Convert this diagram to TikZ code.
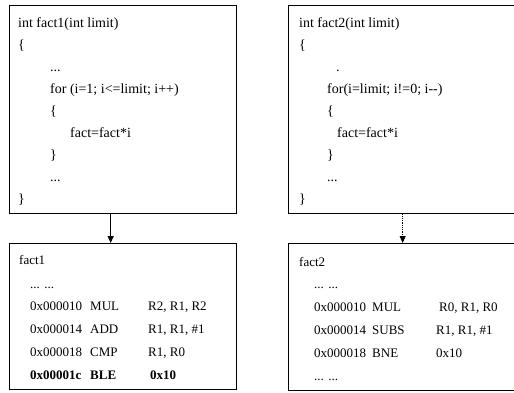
\documentclass[tikz,border=0pt]{standalone}
\usepackage{fontspec}
\setmainfont{Liberation Serif}
\usetikzlibrary{arrows.meta, positioning}

\tikzset{
  codebox/.style={draw, line width=1.3pt, rectangle, inner sep=0pt, anchor=north west},
  codeline/.style={anchor=base west, inner sep=0pt, font=\fontsize{13}{15}\selectfont},
  srcline/.style={codeline, font=\fontsize{14}{16}\selectfont},
  flow/.style={-{Triangle[length=7pt,width=6pt]}, line width=1.3pt},
}

\begin{document}
\begin{tikzpicture}[x=1pt, y=-1pt]
\useasboundingbox (0,0) rectangle (514,392);
% boxes
\node[codebox, minimum width=227pt, minimum height=208pt] (srcA) at (9,5) {};
\node[codebox, minimum width=228pt, minimum height=208pt] (srcB) at (288,5) {};
\node[codebox, minimum width=227pt, minimum height=146pt] (asmA) at (9,243) {};
\node[codebox, minimum width=228pt, minimum height=147pt] (asmB) at (288,243) {};
\draw[flow] ([xshift=-12.5pt]srcA.south) -- ([xshift=-12.5pt]asmA.north);
\draw[flow, line width=0.8pt, densely dotted] (srcB.south) -- (asmB.north);
% fact1 source
\node[srcline] (a1) at (18,27) {int fact1(int limit)};
\node[srcline] (a2) at (18,49) {\{};
\node[srcline] (a3) at (50,71) {...};
\node[srcline] (a4) at (50,93) {for (i=1; i<=limit; i++)};
\node[srcline] (a5) at (50,115) {\{};
\node[srcline] (a6) at (70,137) {fact=fact*i};
\node[srcline] (a7) at (50,159) {\}};
\node[srcline] (a8) at (50,181) {...};
\node[srcline] (a9) at (18,203) {\}};
% fact2 source
\node[srcline] (b1) at (299,27) {int fact2(int limit)};
\node[srcline] (b2) at (299,49) {\{};
\node[srcline] (b3) at (336,71) {.};
\node[srcline] (b4) at (327,93) {for(i=limit; i!=0; i-{}-)};
\node[srcline] (b5) at (327,115) {\{};
\node[srcline] (b6) at (337,137) {fact=fact*i};
\node[srcline] (b7) at (327,159) {\}};
\node[srcline] (b8) at (327,181) {...};
\node[srcline] (b9) at (299,203) {\}};
% fact1 assembly
\node[codeline] (c1) at (19,264) {fact1};
\node[codeline] (c2) at (30,288) {... ...};
\node[codeline] (c3) at (30,310) {0x000010};
\node[codeline] (c3op) at (90,310) {MUL};
\node[codeline] (c3arg) at (148,310) {R2, R1, R2};
\node[codeline] (c4) at (30,333) {0x000014};
\node[codeline] (c4op) at (90,333) {ADD};
\node[codeline] (c4arg) at (148,333) {R1, R1, \#1};
\node[codeline] (c5) at (30,356) {0x000018};
\node[codeline] (c5op) at (90,356) {CMP};
\node[codeline] (c5arg) at (148,356) {R1, R0};
\node[codeline, font=\fontsize{13}{15}\selectfont\bfseries] (c6) at (30,379) {0x00001c};
\node[codeline, font=\fontsize{13}{15}\selectfont\bfseries] (c6op) at (90,379) {BLE};
\node[codeline, font=\fontsize{13}{15}\selectfont\bfseries] (c6arg) at (150,379) {0x10};
% fact2 assembly
\node[codeline] (d1) at (299,266) {fact2};
\node[codeline] (d2) at (314,288) {... ...};
\node[codeline] (d3) at (314,311) {0x000010};
\node[codeline] (d3op) at (372,311) {MUL};
\node[codeline] (d3arg) at (439,311) {R0, R1, R0};
\node[codeline] (d4) at (314,334) {0x000014};
\node[codeline] (d4op) at (372,334) {SUBS};
\node[codeline] (d4arg) at (436,334) {R1, R1, \#1};
\node[codeline] (d5) at (314,357) {0x000018};
\node[codeline] (d5op) at (372,357) {BNE};
\node[codeline] (d5arg) at (436,357) {0x10};
\node[codeline] (d6) at (314,380) {... ...};
\end{tikzpicture}
\end{document}
